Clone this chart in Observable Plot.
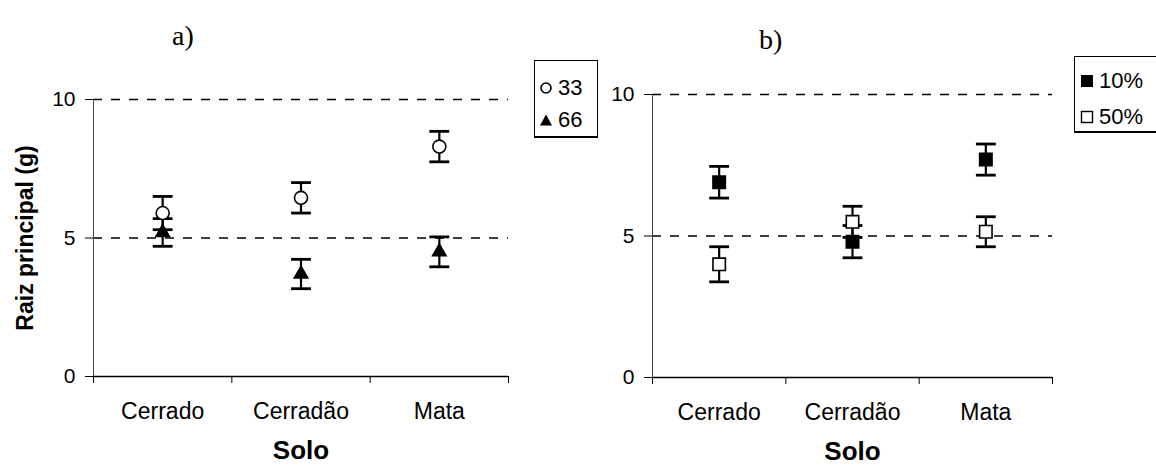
<!DOCTYPE html>
<html>
<head>
<meta charset="utf-8">
<script src="https://cdn.jsdelivr.net/npm/d3@7"></script>
<script src="https://cdn.jsdelivr.net/npm/@observablehq/plot@0.6"></script>
<style>
  html, body { margin: 0; padding: 0; background: #fff; }
  #wrap { position: relative; width: 1156px; height: 470px; overflow: hidden; font-family: Arial, "Liberation Sans", sans-serif; }
  .panel { position: absolute; top: 0; }
  .ptitle { position: absolute; font-family: "Liberation Serif", "Times New Roman", serif; font-size: 28px; line-height: 1; }
  .legend { position: absolute; border: 1px solid #000; border-bottom-width: 2px; background: #fff; }
  .legend .row { position: absolute; left: 0; display: flex; align-items: center; font-size: 22px; line-height: 1; white-space: nowrap; }
  .legend svg { margin-right: 5px; }
</style>
</head>
<body>
<div id="wrap"></div>
<script>
// Soil types on the x axis
const soils = ["Cerrado", "Cerradão", "Mata"];
const yTicks = [0, 5, 10];

// Panel a) – series 33 and 66
const seriesA = ["33", "66"];
const mean33 = [5.9, 6.45, 8.3];
const err33 = [0.6, 0.55, 0.55];
const mean66 = [5.2, 3.7, 4.5];
const err66 = [0.5, 0.53, 0.54];

// Panel b) – series 10% and 50%
const seriesB = ["10%", "50%"];
const mean10 = [6.9, 4.8, 7.7];
const err10 = [0.56, 0.57, 0.55];
const mean50 = [4.0, 5.5, 5.15];
const err50 = [0.62, 0.55, 0.53];

// Horizontal cap used for the error-bar ends
const capSymbol = {
  draw(context, size) {
    const w = Math.sqrt(size);
    context.moveTo(-w, 0);
    context.lineTo(w, 0);
  }
};

function rows(series, means, errs) {
  return soils.map((s, i) => ({soil: s, pos: i + 0.5, series, mean: means[i], err: errs[i]}));
}

function errorMarks(data) {
  return [
    Plot.ruleX(data, {x: "pos", y1: d => d.mean - d.err, y2: d => d.mean + d.err, stroke: "black", strokeWidth: 2.2}),
    Plot.dot(data, {x: "pos", y: d => d.mean + d.err, symbol: capSymbol, r: 5.6, stroke: "black", strokeWidth: 2.8, fill: "none"}),
    Plot.dot(data, {x: "pos", y: d => d.mean - d.err, symbol: capSymbol, r: 5.6, stroke: "black", strokeWidth: 2.8, fill: "none"})
  ];
}

function panel({width, marginLeft, marginRight, marginTop, marginBottom, groups, ylabel}) {
  const marks = [
    Plot.ruleY([5, 10], {stroke: "black", strokeWidth: 1.4, strokeDasharray: "9,9"}),
    Plot.ruleX([0], {stroke: "#444", strokeWidth: 1}),
    Plot.ruleY([0], {stroke: "black", strokeWidth: 1.6}),
    Plot.axisY({ticks: yTicks, tickSize: 8, tickPadding: 10, label: null}),
    Plot.axisX({ticks: [0, 1, 2, 3], tickSize: 7, tickFormat: () => "", label: null}),
    Plot.text(soils, {x: (d, i) => i + 0.5, frameAnchor: "bottom", dy: 42, fontSize: 23}),
    Plot.text(["Solo"], {frameAnchor: "bottom", dy: 82, fontSize: 26, fontWeight: "bold"})
  ];
  if (ylabel) {
    marks.push(Plot.text([ylabel], {frameAnchor: "left", textAnchor: "middle", dx: -68, rotate: -90, fontSize: 23, fontWeight: "bold"}));
  }
  for (const g of groups) {
    marks.push(...errorMarks(g.data));
    marks.push(Plot.dot(g.data, {x: "pos", y: "mean", symbol: g.symbol, r: g.r, fill: g.fill, stroke: "black", strokeWidth: 1.6}));
  }
  return Plot.plot({
    width, height: 470, marginLeft, marginRight, marginTop, marginBottom,
    x: {domain: [0, 3]},
    y: {domain: [0, 10]},
    style: {fontFamily: "Arial, 'Liberation Sans', sans-serif", fontSize: "21px", color: "black", background: "transparent", overflow: "visible"},
    marks
  });
}

const wrap = document.getElementById("wrap");

const left = panel({
  width: 560, marginLeft: 93, marginRight: 52, marginTop: 99, marginBottom: 94,
  ylabel: "Raiz principal (g)",
  groups: [
    {data: rows(seriesA[1], mean66, err66), symbol: "triangle", r: 5, fill: "black"},
    {data: rows(seriesA[0], mean33, err33), symbol: "circle", r: 6.5, fill: "white"}
  ]
});
left.classList.add("panel");
left.style.left = "0px";
wrap.appendChild(left);

const right = panel({
  width: 596, marginLeft: 92, marginRight: 104, marginTop: 94, marginBottom: 93,
  ylabel: null,
  groups: [
    {data: rows(seriesB[0], mean10, err10), symbol: "square", r: 7, fill: "black"},
    {data: rows(seriesB[1], mean50, err50), symbol: "square", r: 7, fill: "white"}
  ]
});
right.classList.add("panel");
right.style.left = "560px";
wrap.appendChild(right);

// Panel titles
function addTitle(text, x, y) {
  const t = document.createElement("div");
  t.className = "ptitle";
  t.textContent = text;
  t.style.left = x + "px";
  t.style.top = y + "px";
  wrap.appendChild(t);
}
addTitle("a)", 172, 22);
addTitle("b)", 759, 26);

// Legends
function markerSvg(kind) {
  const s = d3.create("svg").attr("width", 14).attr("height", 14);
  if (kind === "circle") s.append("circle").attr("cx", 7).attr("cy", 7).attr("r", 5).attr("fill", "white").attr("stroke", "black").attr("stroke-width", 1.6);
  if (kind === "triangle") s.append("path").attr("d", "M7,1.5L13,12.5L1,12.5Z").attr("fill", "black");
  if (kind === "fsquare") s.append("rect").attr("x", 1).attr("y", 1).attr("width", 12).attr("height", 12).attr("fill", "black");
  if (kind === "osquare") s.append("rect").attr("x", 1.5).attr("y", 1.5).attr("width", 11).attr("height", 11).attr("fill", "white").attr("stroke", "black").attr("stroke-width", 1.4);
  return s.node();
}
function addLegend(box, entries) {
  const lg = document.createElement("div");
  lg.className = "legend";
  Object.assign(lg.style, {left: box.x + "px", top: box.y + "px", width: box.w + "px", height: box.h + "px"});
  entries.forEach(e => {
    const r = document.createElement("div");
    r.className = "row";
    r.style.top = e.top + "px";
    r.style.left = box.pad + "px";
    r.appendChild(markerSvg(e.kind));
    const sp = document.createElement("span");
    sp.textContent = e.label;
    r.appendChild(sp);
    lg.appendChild(r);
  });
  wrap.appendChild(lg);
}
addLegend({x: 534, y: 60, w: 62, h: 75, pad: 4}, [
  {kind: "circle", label: seriesA[0], top: 16},
  {kind: "triangle", label: seriesA[1], top: 48}
]);
addLegend({x: 1074, y: 56, w: 100, h: 74, pad: 5}, [
  {kind: "fsquare", label: seriesB[0], top: 13},
  {kind: "osquare", label: seriesB[1], top: 49}
]);
</script>
</body>
</html>
